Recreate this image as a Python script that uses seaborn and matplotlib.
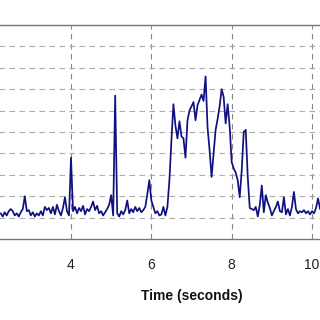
import numpy as np
import pandas as pd
import matplotlib
matplotlib.use("Agg")
import matplotlib.pyplot as plt
import seaborn as sns

# sample times (seconds), regular sampling every 0.05 s
t_start = 2.25
t_step = 0.05
values = [
    1.2, 1.05, 1.25, 1.1, 1.3, 1.4, 1.3, 1.1, 1.2, 1.05,
    1.25, 1.4, 2.0, 1.3, 1.35, 1.1, 1.25, 1.05, 1.2, 1.1,
    1.3, 1.1, 1.5, 1.35, 1.45, 1.2, 1.5, 1.15, 1.6, 1.3,
    1.1, 1.45, 1.95, 1.3, 1.1, 3.8, 1.3, 1.5, 1.2, 1.45,
    1.3, 1.55, 1.15, 1.4, 1.3, 1.5, 1.75, 1.35, 1.55, 1.2,
    1.3, 1.1, 1.25, 1.4, 1.6, 2.05, 1.1, 6.7, 1.2, 1.05,
    1.3, 1.15, 1.35, 1.8, 1.2, 1.4, 1.25, 1.5, 1.3, 1.45,
    1.25, 1.35, 1.5, 2.1, 2.75, 1.8, 1.5, 1.2, 1.3, 1.1,
    1.15, 1.5, 1.1, 1.5, 2.75, 4.6, 6.3, 5.3, 4.7, 5.5,
    4.8, 4.7, 3.8, 5.55, 6.0, 6.2, 6.4, 5.55, 6.25, 6.5,
    6.75, 6.45, 7.6, 5.2, 4.15, 2.9, 4.0, 5.1, 5.6, 6.2,
    7.0, 6.65, 5.4, 6.3, 5.25, 3.6, 3.3, 3.1, 2.75, 1.95,
    3.2, 5.0, 5.1, 2.9, 1.45, 1.4, 1.35, 1.5, 1.05, 1.6,
    2.5, 1.25, 2.05, 1.7, 1.45, 1.1, 1.3, 1.5, 1.75, 1.3,
    1.25, 1.95, 1.15, 1.4, 1.1, 1.5, 2.2, 1.4, 1.2, 1.3,
    1.25, 1.35, 1.2, 1.3, 1.15, 1.3, 1.2, 1.45, 1.9, 1.4,
    1.3,
]
times = np.round(t_start + t_step * np.arange(len(values)), 3)
x_ticks = [4, 6, 8, 10]
y_ticks = list(range(0, 11))
x_label = "Time (seconds)"

df = pd.DataFrame({"time": times, "value": values})

sns.set_theme(style="white")
plt.rcParams["font.family"] = ["Liberation Sans", "DejaVu Sans"]

fig = plt.figure(figsize=(3.2, 3.2), dpi=100)
ax = fig.add_axes([-0.0292, 0.2531, 1.2553, 0.6688])

sns.lineplot(data=df, x="time", y="value", ax=ax, color="#101080",
             linewidth=1.25, estimator=None)

ax.set_xlim(2, 12)
ax.set_ylim(0, 10)
ax.set_xticks(x_ticks)
ax.set_yticks(y_ticks)
ax.set_xticklabels([str(v) for v in x_ticks])
ax.set_yticklabels([])

ax.grid(True, axis="x", linestyle=(0, (5, 4)), color="#888888", linewidth=0.8)
ax.grid(True, axis="y", linestyle=(0, (5, 4)), color="#ababab", linewidth=0.8)
ax.set_axisbelow(True)

for side in ["top", "bottom"]:
    ax.spines[side].set_visible(True)
    ax.spines[side].set_color("#777777")
    ax.spines[side].set_linewidth(1.0)
for side in ["left", "right"]:
    ax.spines[side].set_visible(False)

ax.tick_params(axis="x", direction="in", length=3, color="#777777",
               labelsize=10, labelcolor="#222222", pad=14)
ax.tick_params(axis="y", length=0)

ax.set_xlabel(x_label, fontsize=10, fontweight="bold", color="#111111",
              labelpad=12)
ax.set_ylabel("")

fig.savefig("out.png", dpi=100)
